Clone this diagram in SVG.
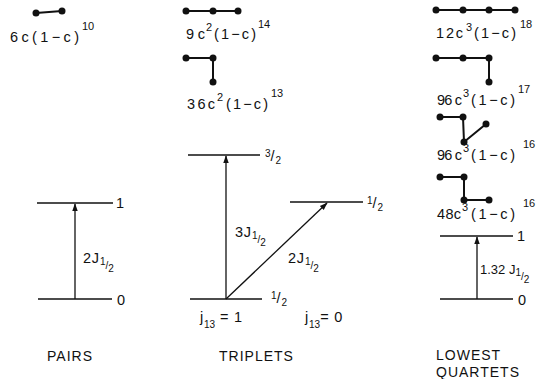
<svg xmlns="http://www.w3.org/2000/svg" width="537" height="379" viewBox="0 0 537 379">
<style>
text{font-family:"Liberation Sans","DejaVu Sans",sans-serif;fill:#111;}
.f{font-size:14.5px;}
.sup{font-size:11px;}
.lbl{font-size:14.5px;letter-spacing:0.8px;}
.fr{font-size:10px;letter-spacing:0;}
.cap{font-size:14px;letter-spacing:1px;}
.lev{stroke:#111;stroke-width:1.6;fill:none;}
.bond{stroke:#111;stroke-width:2;fill:none;}
.dot{fill:#111;}
.arr{stroke:#111;stroke-width:1.3;fill:none;marker-end:url(#ah);}
</style>
<defs>
<marker id="ah" viewBox="0 0 10 10" refX="9" refY="5" markerWidth="8" markerHeight="8" markerUnits="userSpaceOnUse" orient="auto">
<path d="M0,1.5 L10,5 L0,8.5 Z" fill="#111"/>
</marker>
</defs>

<!-- PAIRS -->
<g id="pair-cluster">
<line class="bond" x1="36" y1="13" x2="62" y2="11"/>
<circle class="dot" cx="36" cy="13" r="3.5"/><circle class="dot" cx="62" cy="11" r="3.5"/>
<text class="f" x="10" y="42" textLength="69" lengthAdjust="spacing">6c(1−c)</text>
<text class="sup" x="82" y="30">10</text>
</g>
<g id="pairs-levels">
<line class="lev" x1="37" y1="203" x2="113" y2="203"/>
<text class="lbl" x="116" y="208">1</text>
<line class="lev" x1="38" y1="299" x2="112" y2="299"/>
<text class="lbl" x="117" y="305">0</text>
<text class="lbl" x="83" y="263">2J<tspan class="fr" dy="2">1</tspan><tspan class="fr" dy="4">/</tspan><tspan class="fr" dy="3">2</tspan></text>
</g>
<text class="cap" x="47" y="361">PAIRS</text>

<!-- TRIPLETS -->
<g id="triplet-linear">
<line class="bond" x1="186" y1="11" x2="238" y2="11"/>
<circle class="dot" cx="186" cy="11" r="3.5"/><circle class="dot" cx="213" cy="11" r="3.5"/><circle class="dot" cx="238" cy="11" r="3.5"/>
<text class="f" x="186" y="39" textLength="19" lengthAdjust="spacing">9c</text>
<text class="sup" x="206" y="31">2</text>
<text class="f" x="214" y="39" textLength="42" lengthAdjust="spacing">(1−c)</text>
<text class="sup" x="258" y="28">14</text>
</g>
<g id="triplet-bent">
<polyline class="bond" points="186,58 213,58 213,82"/>
<circle class="dot" cx="186" cy="58" r="3.5"/><circle class="dot" cx="213" cy="58" r="3.5"/><circle class="dot" cx="213" cy="82" r="3.5"/>
<text class="f" x="187" y="109" textLength="28" lengthAdjust="spacing">36c</text>
<text class="sup" x="217" y="101">2</text>
<text class="f" x="226" y="109" textLength="42" lengthAdjust="spacing">(1−c)</text>
<text class="sup" x="271" y="97">13</text>
</g>
<g id="triplet-levels">
<line class="lev" x1="188" y1="155" x2="260" y2="155"/>
<text class="lbl" x="265" y="157"><tspan class="fr">3</tspan><tspan dy="4">/</tspan><tspan class="fr" dy="3">2</tspan></text>
<line class="lev" x1="290" y1="202" x2="363" y2="202"/>
<text class="lbl" x="367" y="204"><tspan class="fr">1</tspan><tspan dy="4">/</tspan><tspan class="fr" dy="3">2</tspan></text>
<line class="lev" x1="190" y1="299" x2="262" y2="299"/>
<text class="lbl" x="271" y="299"><tspan class="fr">1</tspan><tspan dy="4">/</tspan><tspan class="fr" dy="3">2</tspan></text>
<text class="lbl" x="235" y="237">3J<tspan class="fr" dy="2">1</tspan><tspan class="fr" dy="4">/</tspan><tspan class="fr" dy="3">2</tspan></text>
<text class="lbl" x="288" y="263">2J<tspan class="fr" dy="2">1</tspan><tspan class="fr" dy="4">/</tspan><tspan class="fr" dy="3">2</tspan></text>
<text class="lbl" x="200" y="322">j<tspan class="fr" dy="6">13</tspan><tspan dy="-6"> = 1</tspan></text>
<text class="lbl" x="305" y="322">j<tspan class="fr" dy="6">13</tspan><tspan dy="-6">= 0</tspan></text>
</g>
<text class="cap" x="219" y="361">TRIPLETS</text>

<!-- QUARTETS -->
<g id="quartet-linear">
<line class="bond" x1="436" y1="10" x2="515" y2="10"/>
<circle class="dot" cx="436" cy="10" r="3.5"/><circle class="dot" cx="463" cy="10" r="3.5"/><circle class="dot" cx="489" cy="10" r="3.5"/><circle class="dot" cx="515" cy="10" r="3.5"/>
<text class="f" x="436" y="38" textLength="27" lengthAdjust="spacing">12c</text>
<text class="sup" x="466" y="31">3</text>
<text class="f" x="474" y="38" textLength="42" lengthAdjust="spacing">(1−c)</text>
<text class="sup" x="520" y="28">18</text>
</g>
<g id="quartet-L">
<polyline class="bond" points="436,58 489,58 489,82"/>
<circle class="dot" cx="436" cy="58" r="3.5"/><circle class="dot" cx="463" cy="58" r="3.5"/><circle class="dot" cx="489" cy="58" r="3.5"/><circle class="dot" cx="489" cy="82" r="3.5"/>
<text class="f" x="437" y="105" textLength="25" lengthAdjust="spacing">96 c</text>
<text class="sup" x="463" y="97">3</text>
<text class="f" x="471" y="105" textLength="44" lengthAdjust="spacing">(1−c)</text>
<text class="sup" x="518" y="93">17</text>
</g>
<g id="quartet-branched">
<polyline class="bond" points="440,117 463,117 464,142 486,124"/>
<circle class="dot" cx="440" cy="117" r="3.5"/><circle class="dot" cx="463" cy="117" r="3.5"/><circle class="dot" cx="464" cy="142" r="3.5"/><circle class="dot" cx="486" cy="124" r="3.5"/>
<text class="f" x="437" y="160" textLength="25" lengthAdjust="spacing">96 c</text>
<text class="sup" x="463" y="152">3</text>
<text class="f" x="471" y="160" textLength="44" lengthAdjust="spacing">(1−c)</text>
<text class="sup" x="523" y="148">16</text>
</g>
<g id="quartet-Z">
<polyline class="bond" points="440,177 464,177 464,200 489,200"/>
<circle class="dot" cx="440" cy="177" r="3.5"/><circle class="dot" cx="464" cy="177" r="3.5"/><circle class="dot" cx="464" cy="200" r="3.5"/><circle class="dot" cx="489" cy="200" r="3.5"/>
<text class="f" x="437" y="219" textLength="24" lengthAdjust="spacing">48c</text>
<text class="sup" x="462" y="211">3</text>
<text class="f" x="471" y="219" textLength="44" lengthAdjust="spacing">(1−c)</text>
<text class="sup" x="523" y="207">16</text>
</g>
<g id="quartet-levels">
<line class="lev" x1="440" y1="236" x2="513" y2="236"/>
<text class="lbl" x="517" y="241">1</text>
<line class="lev" x1="440" y1="299" x2="513" y2="299"/>
<text class="lbl" x="518" y="305">0</text>
<text x="480" y="274" style="font-size:13px;letter-spacing:0">1.32 J<tspan class="fr" dy="2">1</tspan><tspan class="fr" dy="4">/</tspan><tspan class="fr" dy="3">2</tspan></text>
</g>
<text class="cap" x="436" y="360">LOWEST</text>
<text class="cap" x="436" y="377">QUARTETS</text>

<g id="connectors">
<line class="arr" x1="75" y1="299" x2="75" y2="204"/>
<line class="arr" x1="226" y1="299" x2="226" y2="156"/>
<line class="arr" x1="226" y1="299" x2="327" y2="203"/>
<line class="arr" x1="477" y1="299" x2="477" y2="237"/>
</g>
</svg>
